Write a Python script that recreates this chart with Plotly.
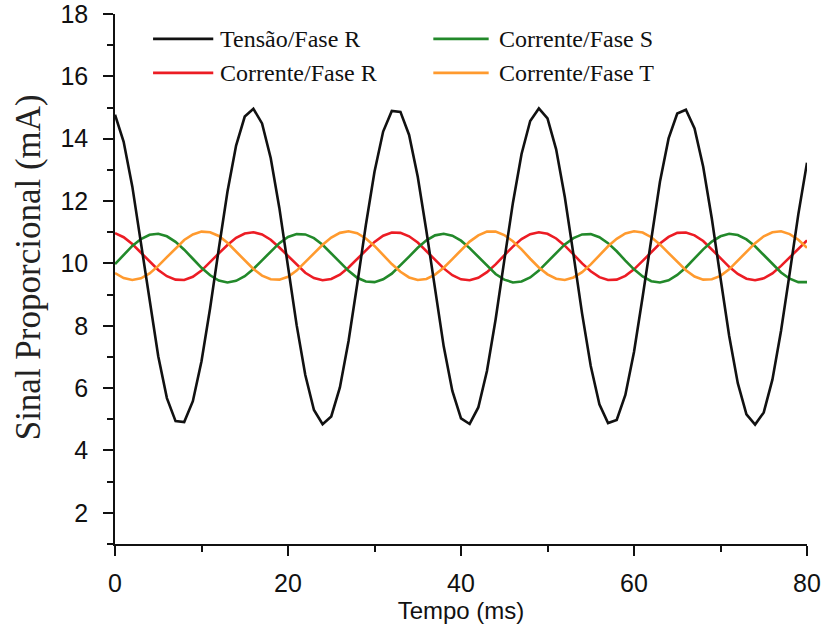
import plotly.graph_objects as go

# tempo em ms (amostragem de 1 ms)
tempo_ms = [0, 1, 2, 3, 4, 5, 6, 7, 8, 9, 10, 11, 12, 13, 14, 15, 16, 17, 18, 19,
            20, 21, 22, 23, 24, 25, 26, 27, 28, 29, 30, 31, 32, 33, 34, 35, 36, 37, 38, 39,
            40, 41, 42, 43, 44, 45, 46, 47, 48, 49, 50, 51, 52, 53, 54, 55, 56, 57, 58, 59,
            60, 61, 62, 63, 64, 65, 66, 67, 68, 69, 70, 71, 72, 73, 74, 75, 76, 77, 78, 79, 80]

tensao_r = [14.77, 13.90, 12.47, 10.67, 8.76, 7.02, 5.68, 4.94, 4.91, 5.58,
            6.86, 8.57, 10.47, 12.30, 13.78, 14.71, 14.96, 14.49, 13.38, 11.78,
            9.90, 8.02, 6.42, 5.30, 4.84, 5.09, 6.02, 7.51, 9.33, 11.23,
            12.94, 14.23, 14.89, 14.86, 14.12, 12.78, 11.04, 9.14, 7.34, 5.91,
            5.03, 4.85, 5.38, 6.55, 8.20, 10.09, 11.94, 13.51, 14.57, 14.97,
            14.65, 13.66, 12.13, 10.29, 8.39, 6.71, 5.48, 4.88, 4.98, 5.78,
            7.16, 8.93, 10.84, 12.62, 14.01, 14.81, 14.93, 14.33, 13.10, 11.43,
            9.53, 7.68, 6.16, 5.16, 4.83, 5.22, 6.27, 7.84, 9.69, 11.58, 13.23]

corrente_r = [10.97, 10.84, 10.62, 10.35, 10.06, 9.79, 9.59, 9.48, 9.47, 9.57,
              9.77, 10.03, 10.32, 10.59, 10.82, 10.96, 11.00, 10.93, 10.76, 10.51,
              10.23, 9.95, 9.70, 9.53, 9.46, 9.50, 9.64, 9.87, 10.14, 10.43,
              10.69, 10.89, 10.99, 10.98, 10.87, 10.67, 10.40, 10.11, 9.84, 9.62,
              9.49, 9.46, 9.54, 9.72, 9.97, 10.26, 10.54, 10.78, 10.94, 11.00,
              10.95, 10.80, 10.57, 10.29, 10.00, 9.75, 9.56, 9.47, 9.48, 9.60,
              9.81, 10.08, 10.37, 10.64, 10.85, 10.98, 10.99, 10.90, 10.72, 10.46,
              10.17, 9.89, 9.66, 9.51, 9.46, 9.52, 9.68, 9.92, 10.20, 10.48, 10.74]

corrente_s = [9.98, 10.28, 10.56, 10.78, 10.92, 10.95, 10.87, 10.69, 10.44, 10.15,
              9.86, 9.62, 9.45, 9.39, 9.44, 9.59, 9.82, 10.10, 10.39, 10.65,
              10.85, 10.94, 10.93, 10.81, 10.60, 10.33, 10.03, 9.76, 9.54, 9.42,
              9.40, 9.49, 9.67, 9.93, 10.22, 10.50, 10.74, 10.90, 10.95, 10.89,
              10.73, 10.49, 10.21, 9.92, 9.66, 9.48, 9.39, 9.42, 9.55, 9.77,
              10.04, 10.33, 10.61, 10.81, 10.93, 10.94, 10.84, 10.65, 10.39, 10.09,
              9.81, 9.58, 9.43, 9.39, 9.46, 9.63, 9.87, 10.16, 10.45, 10.70,
              10.87, 10.95, 10.91, 10.77, 10.55, 10.27, 9.98, 9.71, 9.51, 9.40, 9.40]

corrente_t = [9.69, 9.53, 9.47, 9.52, 9.68, 9.92, 10.20, 10.49, 10.75, 10.93,
              11.02, 11.00, 10.88, 10.66, 10.39, 10.09, 9.82, 9.61, 9.49, 9.48,
              9.57, 9.77, 10.03, 10.32, 10.60, 10.83, 10.98, 11.03, 10.97, 10.80,
              10.56, 10.27, 9.98, 9.73, 9.55, 9.47, 9.50, 9.64, 9.86, 10.14,
              10.43, 10.70, 10.90, 11.02, 11.02, 10.91, 10.71, 10.45, 10.15, 9.87,
              9.65, 9.51, 9.47, 9.55, 9.72, 9.97, 10.26, 10.55, 10.79, 10.96,
              11.03, 10.99, 10.84, 10.61, 10.33, 10.04, 9.78, 9.58, 9.48, 9.49,
              9.60, 9.81, 10.08, 10.38, 10.65, 10.87, 11.00, 11.03, 10.94, 10.76, 10.50]

series_names = ["Tensão/Fase R", "Corrente/Fase S", "Corrente/Fase R", "Corrente/Fase T"]
series_colors = ["#111111", "#22892a", "#ec1c24", "#ff9a2e"]
series_data = [tensao_r, corrente_s, corrente_r, corrente_t]

# legenda desenhada à mão (linha longa + texto serifado), 2 colunas x 2 linhas
legend_pos = [(0.055, 0.142, 0.149, 0.953),
              (0.460, 0.540, 0.552, 0.953),
              (0.055, 0.142, 0.149, 0.889),
              (0.460, 0.540, 0.552, 0.889)]

SERIF = "Liberation Serif, Times New Roman, serif"
SANS = "Liberation Sans, Arial, sans-serif"

fig = go.Figure()

# desenha a tensão por último para ficar por cima
for idx in [2, 1, 3, 0]:
    fig.add_trace(go.Scatter(
        x=tempo_ms, y=series_data[idx], mode="lines", name=series_names[idx],
        line=dict(color=series_colors[idx], width=2.6), showlegend=False,
    ))

for name, color, (x0, x1, xt, yy) in zip(series_names, series_colors, legend_pos):
    fig.add_shape(type="line", xref="paper", yref="paper", x0=x0, x1=x1, y0=yy, y1=yy,
                  line=dict(color=color, width=2.6))
    fig.add_annotation(xref="paper", yref="paper", x=xt, y=yy, text=name, showarrow=False,
                       xanchor="left", yanchor="middle", font=dict(family=SERIF, size=24, color="#111111"))

fig.add_annotation(xref="paper", yref="paper", x=0, y=0.522, xshift=-87, text="Sinal Proporcional (mA)",
                   textangle=-90, showarrow=False, xanchor="center", yanchor="middle",
                   font=dict(family=SERIF, size=35, color="#222222"))

fig.update_xaxes(
    range=[0, 80], tick0=0, dtick=20, ticks="outside", ticklen=10, tickwidth=1.5, tickcolor="#111111",
    showline=True, linecolor="#111111", linewidth=1.5, showgrid=False, zeroline=False, automargin=False,
    minor=dict(dtick=10, ticks="outside", ticklen=6, tickwidth=1.5, tickcolor="#111111"),
    tickfont=dict(family=SANS, size=25, color="#111111"), ticklabelstandoff=6,
    ticklabeloverflow="allow",
    title=dict(text="Tempo (ms)", font=dict(family=SANS, size=24, color="#111111"), standoff=0),
)
fig.update_yaxes(
    range=[1, 18], tick0=0, dtick=2, ticks="outside", ticklen=10, tickwidth=1.5, tickcolor="#111111",
    showline=True, linecolor="#111111", linewidth=1.5, showgrid=False, zeroline=False, automargin=False,
    minor=dict(dtick=1, ticks="outside", ticklen=6, tickwidth=1.5, tickcolor="#111111"),
    tickfont=dict(family=SANS, size=25, color="#111111"), ticklabelstandoff=10,
    ticklabeloverflow="allow",
)

fig.update_layout(
    width=828, height=628,
    margin=dict(l=115, r=21, t=14, b=84),
    plot_bgcolor="white", paper_bgcolor="white",
    showlegend=False,
)

# a página padrão tem margem de 8 px no body; remove para a figura ocupar a janela toda
fig.write_html("out.html", config={"displayModeBar": False},
               post_script="document.body.style.margin='0px';")
